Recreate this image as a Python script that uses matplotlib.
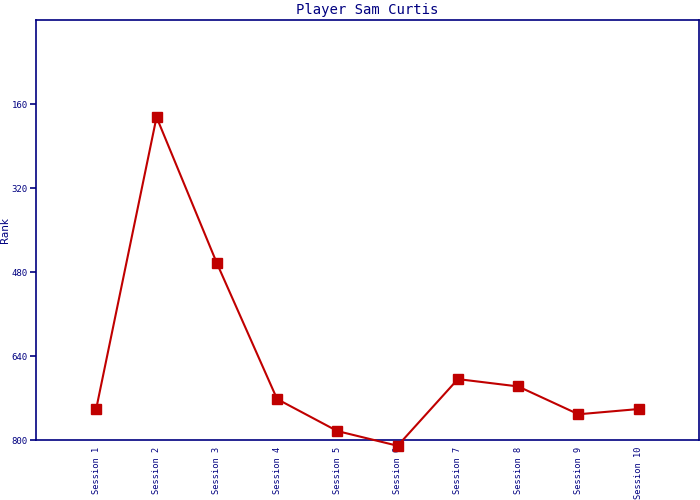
import matplotlib
matplotlib.use("Agg")
import matplotlib.pyplot as plt

# Rank per session (lower rank = better, so y axis is inverted)
sessions = ['Session 1', 'Session 2', 'Session 3', 'Session 4', 'Session 5',
            'Session 6', 'Session 7', 'Session 8', 'Session 9', 'Session 10']
ranks = [740, 185, 463, 722, 783, 811, 684, 698, 751, 741]
rank_ticks = [160, 320, 480, 640, 800]

navy = '#000080'
red = '#c00000'

fig = plt.figure(figsize=(7, 5), dpi=100)
ax = fig.add_axes([36 / 700, 60 / 500, 663 / 700, 420 / 500])

x = list(range(1, len(sessions) + 1))
ax.plot(x, ranks, color=red, linewidth=1.5, marker='s', markersize=7,
        markerfacecolor=red, markeredgecolor=red, clip_on=False, zorder=3)

ax.set_xlim(0, 11)
ax.set_ylim(800, 0)
ax.set_yticks(rank_ticks)
ax.set_yticklabels([str(t) for t in rank_ticks], fontsize=6.5,
                   family='DejaVu Sans Mono', color=navy)
ax.set_xticks(x)
ax.set_xticklabels(sessions, rotation=90, fontsize=6.2,
                   family='DejaVu Sans Mono', color=navy)
ax.tick_params(axis='y', length=4, width=1.2, color=navy, direction='out', pad=2)
ax.tick_params(axis='x', length=0, pad=5)

for side in ['left', 'right', 'top', 'bottom']:
    ax.spines[side].set_color(navy)
    ax.spines[side].set_linewidth(1.2)

ax.set_ylabel('Rank', fontsize=7.5, color=navy)
ax.yaxis.set_label_coords(-26 / 663, 0.5)
ax.set_title('Player Sam Curtis', fontsize=10, family='DejaVu Sans Mono',
             color=navy, pad=4)

fig.savefig('out.png', dpi=100)
